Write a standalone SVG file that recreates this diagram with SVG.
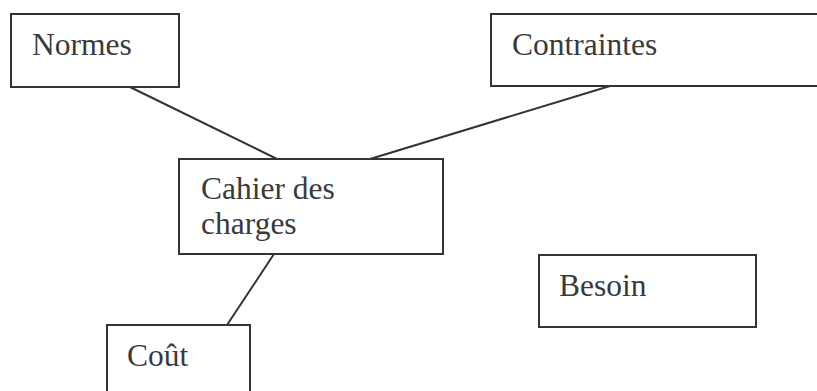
<svg xmlns="http://www.w3.org/2000/svg" width="817" height="391" viewBox="0 0 817 391">
<style>
.box{fill:#fff;stroke:#333;stroke-width:2}
.lbl{font-family:"Liberation Serif","Times New Roman",serif;font-size:31.5px;fill:#3a3a3a}
.conn line{stroke:#333;stroke-width:2}
</style>
<rect width="817" height="391" fill="#fff"/>
<g id="connectors" class="conn">
<line x1="130" y1="87" x2="277" y2="159"/>
<line x1="610" y1="86" x2="370" y2="159"/>
<line x1="274" y1="254" x2="227" y2="325"/>
</g>
<g id="normes"><rect class="box" x="11" y="14" width="168" height="73"/><text class="lbl" x="32" y="55">Normes</text></g>
<g id="contraintes"><rect class="box" x="491" y="14" width="328" height="72"/><text class="lbl" x="512" y="55">Contraintes</text></g>
<g id="cahier"><rect class="box" x="179" y="159" width="264" height="95"/><text class="lbl" x="201" y="199">Cahier des</text><text class="lbl" x="201" y="234">charges</text></g>
<g id="besoin"><rect class="box" x="539" y="255" width="217" height="72"/><text class="lbl" x="559" y="296">Besoin</text></g>
<g id="cout"><rect class="box" x="107" y="325" width="143" height="80"/><text class="lbl" x="127" y="366">Coût</text></g>
</svg>
